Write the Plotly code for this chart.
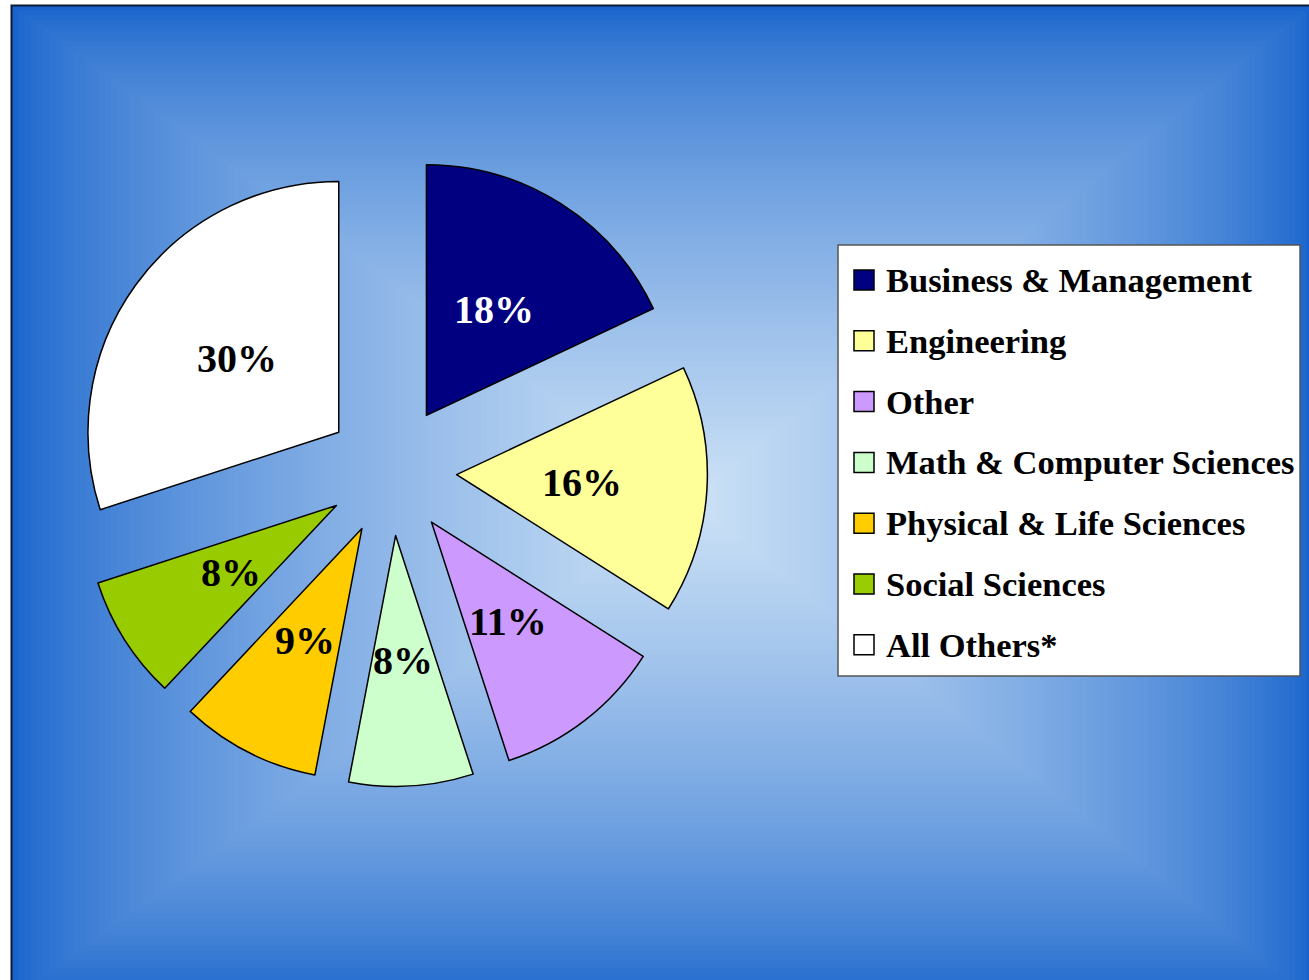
import math
import plotly.graph_objects as go

# ---------------- data ----------------
categories = ["Business & Management", "Engineering", "Other",
              "Math & Computer Sciences", "Physical & Life Sciences",
              "Social Sciences", "All Others*"]
shares = [18, 16, 11, 8, 9, 8, 30]
slice_colors = ["#000080", "#FFFF99", "#CC99FF", "#CCFFCC", "#FFCC00", "#99CC00", "#FFFFFF"]
label_colors = ["#FFFFFF", "#000000", "#000000", "#000000", "#000000", "#000000", "#000000"]

# ---------------- layout constants ----------------
W, H = 1309, 980
PIE_CX, PIE_CY, PIE_HALF = 391.5, 470.5, 316.0
PULL = 0.26
FONT = "Liberation Serif, Times New Roman, serif"

dom_x = [(PIE_CX - PIE_HALF) / W, (PIE_CX + PIE_HALF) / W]
dom_y = [1 - (PIE_CY + PIE_HALF) / H, 1 - (PIE_CY - PIE_HALF) / H]

fig = go.Figure()

fig.add_trace(go.Pie(
    labels=categories, values=shares, sort=False, direction="clockwise",
    rotation=0, pull=[PULL] * len(shares),
    marker=dict(colors=slice_colors, line=dict(color="#000000", width=1.5)),
    textinfo="none", hoverinfo="label+percent", showlegend=False,
    domain=dict(x=dom_x, y=dom_y),
))

# invisible axes matching the pie domain, 1 unit = pie radius
R = 1 + PULL
fig.update_layout(
    xaxis=dict(domain=dom_x, range=[-R, R], visible=False, fixedrange=True),
    yaxis=dict(domain=dom_y, range=[-R, R], visible=False, fixedrange=True),
)

annotations = []
total = sum(shares)
cum = 0
for v, c in zip(shares, label_colors):
    mid = 2 * math.pi * (cum + v / 2) / total
    cum += v
    rr = PULL + 0.5
    annotations.append(dict(
        x=rr * math.sin(mid), y=rr * math.cos(mid), xref="x", yref="y",
        text=f"{v}%", showarrow=False, xanchor="center", yanchor="middle",
        font=dict(family=FONT, size=40, color=c, weight="bold"),
    ))

# ---------------- background gradient (rectangular, from center) ----------------
shapes = []
OL, OT, OR, OB = 12, 6, 1312, 1000
GCX, GCY = 690, 500
edge = (24, 100, 204)
center = (205, 226, 246)
N = 110
for i in range(N):
    s = 1 - i / N
    x0 = OL + (GCX - OL) * (1 - s)
    x1 = OR - (OR - GCX) * (1 - s)
    y0 = OT + (GCY - OT) * (1 - s)
    y1 = OB - (OB - GCY) * (1 - s)
    f = (1 - s) ** 0.7
    col = "rgb(%d,%d,%d)" % tuple(round(e + (c - e) * f) for e, c in zip(edge, center))
    shapes.append(dict(type="rect", xref="paper", yref="paper",
                       x0=x0 / W, x1=x1 / W, y0=1 - y1 / H, y1=1 - y0 / H,
                       fillcolor=col, line=dict(width=0), layer="below"))
# outer border (dark on left/top)
shapes.append(dict(type="rect", xref="paper", yref="paper",
                   x0=(OL - 0.5) / W, x1=OR / W, y0=1 - OB / H, y1=1 - (OT - 0.5) / H,
                   fillcolor="rgba(0,0,0,0)", line=dict(color="#0b1a33", width=2), layer="below"))

# ---------------- custom legend ----------------
LG_L, LG_T, LG_R, LG_B = 838, 245, 1300, 676
shapes.append(dict(type="rect", xref="paper", yref="paper",
                   x0=LG_L / W, x1=LG_R / W, y0=1 - LG_B / H, y1=1 - LG_T / H,
                   fillcolor="#FFFFFF", line=dict(color="#555555", width=1.5), layer="above"))
ITEM_Y0, ITEM_DY = 280, 60.8
SQ_X, SQ = 864, 20
TXT_X = 884
for i, (name, col) in enumerate(zip(categories, slice_colors)):
    yc = ITEM_Y0 + i * ITEM_DY
    shapes.append(dict(type="rect", xref="paper", yref="paper",
                       x0=(SQ_X - SQ / 2) / W, x1=(SQ_X + SQ / 2) / W,
                       y0=1 - (yc + SQ / 2) / H, y1=1 - (yc - SQ / 2) / H,
                       fillcolor=col, line=dict(color="#000000", width=1.5), layer="above"))
    annotations.append(dict(
        x=TXT_X / W, y=1 - yc / H, xref="paper", yref="paper",
        text=name, showarrow=False, xanchor="left", yanchor="middle",
        font=dict(family=FONT, size=34.5, color="#000000", weight="bold"),
    ))

fig.update_layout(
    width=W, height=H, margin=dict(l=0, r=0, t=0, b=0),
    paper_bgcolor="#FFFFFF", plot_bgcolor="rgba(0,0,0,0)",
    shapes=shapes, annotations=annotations, showlegend=False,
)

fig.write_html("out.html", config={"displayModeBar": False},
               post_script="document.body.style.margin='0px';"
                           "document.body.style.overflow='hidden';")
